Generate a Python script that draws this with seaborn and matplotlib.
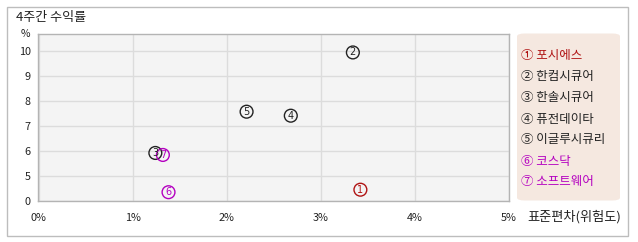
import numpy as np
import pandas as pd
import matplotlib
matplotlib.use("Agg")
import matplotlib.pyplot as plt
from matplotlib.patches import FancyBboxPatch, Rectangle
import seaborn as sns

names = ["포시에스", "한컴시큐어", "한솔시큐어", "퓨전데이타", "이글루시큐리", "코스닥", "소프트웨어"]
marks = ["①", "②", "③", "④", "⑤", "⑥", "⑦"]
risk = [3.42, 3.34, 1.24, 2.68, 2.21, 1.38, 1.32]
ret4w = [2.2, 9.93, 5.91, 7.4, 7.56, 1.7, 5.83]
colors = ["#b01414", "#222222", "#222222", "#222222", "#222222", "#b400c0", "#b400c0"]
x_ticks = [0, 1, 2, 3, 4, 5]
x_labels = ["0%", "1%", "2%", "3%", "4%", "5%"]
y_ticks = [0, 5, 6, 7, 8, 9, 10]

sns.set_theme(style="white")
plt.rcParams['font.family'] = ['Noto Sans CJK KR', 'DejaVu Sans']

W, H = 638, 242
fig = plt.figure(figsize=(W / 100, H / 100), dpi=100)

def fx(px):
    return px / W

def fy(py):
    return 1 - py / H

# outer border
fig.patches.append(Rectangle((fx(6.5), fy(235.5)), fx(627.5) - fx(6.5), fy(7) - fy(235.5),
                             transform=fig.transFigure, fill=False, edgecolor="#bdbdbd", lw=1))
fig.text(fx(16), fy(17.5), "4주간 수익률", fontsize=9.4, color="#222222", va="center", ha="left")

left, right, top, bottom = 37.5, 509, 34.3, 200.7
ax = fig.add_axes([fx(left), fy(bottom), fx(right) - fx(left), fy(top) - fy(bottom)])
ax.set_facecolor("#f4f4f4")

def fwd(y):
    y = np.asarray(y, dtype=float)
    return np.where(y < 5, y / 5.0, y - 4.0)

def inv(p):
    p = np.asarray(p, dtype=float)
    return np.where(p < 1, p * 5.0, p + 4.0)

ax.set_yscale("function", functions=(fwd, inv))

df = pd.DataFrame({"name": names, "risk": risk, "ret": ret4w})
sns.scatterplot(data=df, x="risk", y="ret", hue="name", palette=dict(zip(names, colors)),
                s=85, facecolor="none", linewidth=1.0, legend=False, ax=ax, zorder=3)
coll = ax.collections[0]
coll.set_facecolor("none")
coll.set_edgecolor(colors)

for m, xv, yv, c in zip(range(1, 8), risk, ret4w, colors):
    ax.text(xv, yv, str(m), fontsize=7, color=c, ha="center", va="center", zorder=4,
            family="DejaVu Sans")

ax.set_xlim(-0.013, 5.0)
ax.set_ylim(0, 10.656)
ax.set_xticks(x_ticks)
ax.set_xticklabels(x_labels)
ax.set_yticks(y_ticks)
ax.set_yticklabels([str(v) for v in y_ticks])
ax.tick_params(axis="both", length=0, labelsize=7.8, colors="#222222")
ax.tick_params(axis="x", pad=9)
ax.tick_params(axis="y", pad=5)
ax.set_xlabel("")
ax.set_ylabel("")
ax.grid(True, color="#dcdcdc", lw=1)
ax.set_axisbelow(True)
for s in ax.spines.values():
    s.set_color("#b4b4b4")
    s.set_linewidth(1)

fig.text(fx(25), fy(34), "%", fontsize=7.5, color="#222222", ha="center", va="center")
fig.text(fx(527.5), fy(216.5), "표준편차(위험도)", fontsize=9.5, color="#222222", ha="left", va="center")

# legend box
fig.patches.append(FancyBboxPatch((fx(517), fy(200.5)), fx(620) - fx(517), fy(33.5) - fy(200.5),
                                  boxstyle="round,pad=0,rounding_size=0.012",
                                  transform=fig.transFigure, facecolor="#f5e8e0", edgecolor="none"))
leg_y = [56, 77, 98, 119, 140, 161, 182]
for mk, nm, c, yy in zip(marks, names, colors, leg_y):
    fig.text(fx(521), fy(yy), f"{mk} {nm}", fontsize=9, color=c, ha="left", va="center")

fig.savefig("out.png", dpi=100)
